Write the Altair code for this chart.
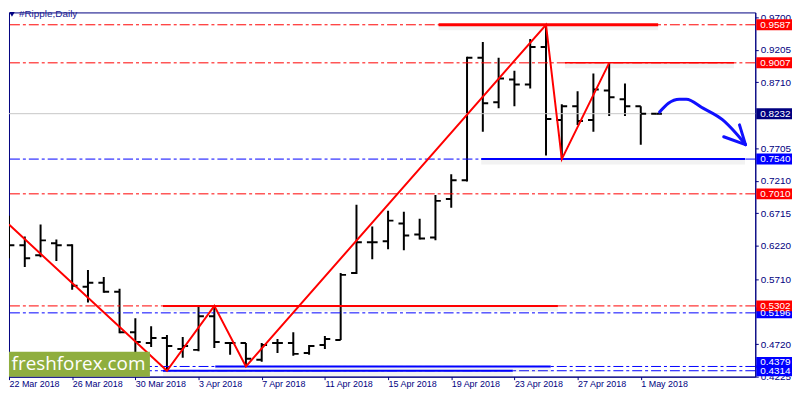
import altair as alt
import pandas as pd

# ---- data ----
days = list(range(42))
opens = [0.6466, 0.6226, 0.6075, 0.6256, 0.6226, 0.5594, 0.5654, 0.5519, 0.4902, 0.4737,
         0.4812, 0.4647, 0.4632, 0.5143, 0.4737, 0.4737, 0.4481, 0.4737, 0.4737, 0.4586,
         0.4707, 0.4782, 0.5805, 0.6271, 0.6286, 0.6557, 0.6391, 0.6346, 0.6933, 0.7218,
         0.9083, 0.8407, 0.8753, 0.8677, 0.9249, 0.8136, 0.8346, 0.8136, 0.8587, 0.8452,
         0.8346, 0.8232]
highs = [0.6677, 0.6361, 0.6542, 0.6316, 0.6241, 0.5850, 0.5744, 0.5564, 0.5113, 0.4992,
         0.4857, 0.4827, 0.5293, 0.5302, 0.4752, 0.4737, 0.4737, 0.4797, 0.4902, 0.4707,
         0.4842, 0.5805, 0.6842, 0.6512, 0.6752, 0.6737, 0.6632, 0.6993, 0.7309, 0.9098,
         0.9324, 0.9083, 0.8888, 0.9369, 0.9587, 0.8376, 0.8572, 0.8843, 0.9007, 0.8692,
         0.8346, 0.8240]
lows = [0.6030, 0.5895, 0.6045, 0.5985, 0.5549, 0.5353, 0.5504, 0.4887, 0.4586, 0.4677,
        0.4314, 0.4511, 0.4610, 0.4662, 0.4556, 0.4379, 0.4451, 0.4586, 0.4541, 0.4556,
        0.4647, 0.4782, 0.5790, 0.6015, 0.6166, 0.6151, 0.6316, 0.6301, 0.6797, 0.7200,
        0.7955, 0.8316, 0.8346, 0.8617, 0.7594, 0.7540, 0.8061, 0.7955, 0.8196, 0.8196,
        0.7760, 0.8225]
closes = [0.6226, 0.6030, 0.6301, 0.6226, 0.5609, 0.5654, 0.5519, 0.4902, 0.4752, 0.4812,
          0.4692, 0.4692, 0.5143, 0.4752, 0.4737, 0.4496, 0.4707, 0.4737, 0.4571, 0.4692,
          0.4797, 0.5775, 0.6271, 0.6271, 0.6602, 0.6376, 0.6331, 0.6903, 0.7218, 0.9083,
          0.8392, 0.8768, 0.8677, 0.9249, 0.8151, 0.8346, 0.8121, 0.8602, 0.8482, 0.8346,
          0.8232, 0.8232]

date_tick_days = [0, 4, 8, 12, 16, 20, 24, 28, 32, 36, 40]
date_labels = ["22 Mar 2018", "26 Mar 2018", "30 Mar 2018", "3 Apr 2018", "7 Apr 2018",
               "11 Apr 2018", "15 Apr 2018", "19 Apr 2018", "23 Apr 2018", "27 Apr 2018",
               "1 May 2018"]
price_ticks = [0.9700, 0.9205, 0.8710, 0.7705, 0.7210, 0.6715, 0.6220,
               0.5710, 0.4720, 0.4225]

zz_days = [0, 10, 13, 15, 34, 35, 38]
zz_prices = [0.6542, 0.4314, 0.5302, 0.4379, 0.9587, 0.7540, 0.9007]

level_prices = [0.9587, 0.9007, 0.7540, 0.7010, 0.5302, 0.5196, 0.4379, 0.4314]
level_colors = ["#ff0000", "#ff0000", "#0000ff", "#ff0000", "#ff0000", "#0000ff", "#0000ff", "#0000ff"]
current_price = 0.8232

seg_prices = [0.9587, 0.9007, 0.7540, 0.5302, 0.4379, 0.4314]
seg_start = [27.2, 35.2, 29.9, 9.75, 13.06, 9.75]
seg_end = [41.1, 45.9, 46.6, 34.75, 34.3, 31.9]
seg_colors = ["#ff0000", "#ff0000", "#0000ff", "#ff0000", "#0000ff", "#0000ff"]
seg_widths = [3, 1.5, 2, 2, 2, 2]

box_prices = [0.9587, 0.9007, 0.8232, 0.7540, 0.7010, 0.5196, 0.5302, 0.4379, 0.4314]
box_colors = ["#ff0000", "#ff0000", "#000080", "#0000ff", "#ff0000", "#0000ff", "#ff0000", "#0000ff", "#0000ff"]

arrow_days = [41.19, 41.75, 42.44, 42.88, 43.94, 45.19, 46.0, 46.63,
              46.25, 46.63, 45.25, 46.63]
arrow_prices = [0.8256, 0.8391, 0.8452, 0.8452, 0.8316, 0.8136, 0.7940, 0.7760,
                0.8061, 0.7760, 0.7880, 0.7760]
arrow_part = ["curve"] * 8 + ["head1"] * 2 + ["head2"] * 2

# ---- tables ----
bars = pd.DataFrame({"day": days, "open": opens, "high": highs, "low": lows, "close": closes})
zz = pd.DataFrame({"day": zz_days, "price": zz_prices})
levels = pd.DataFrame({"price": level_prices, "color": level_colors})
segs = pd.DataFrame({"price": seg_prices, "start": seg_start, "end": seg_end,
                     "color": seg_colors, "w": seg_widths})
boxes = pd.DataFrame({"price": box_prices, "color": box_colors})
arrow = pd.DataFrame({"day": arrow_days, "price": arrow_prices, "part": arrow_part,
                      "i": list(range(len(arrow_days)))})

W, H = 752, 367
xs = alt.Scale(domain=[0, 47.25], nice=False, zero=False)
ys = alt.Scale(domain=[0.4224, 0.97752], nice=False, zero=False)
NAVY = "#000080"

labels_js = "[" + ",".join("'" + s + "'" for s in date_labels) + "]"
x_axis = alt.Axis(values=date_tick_days, labelExpr=labels_js + "[round(datum.value/4)]",
                  title=None, grid=False, tickSize=3, labelAlign="left", labelBaseline="top",
                  labelPadding=0, labelFlush=False, labelOverlap=False, labelBound=False,
                  labelFont="Liberation Sans", labelFontSize=9, labelColor=NAVY,
                  domainColor=NAVY, tickColor=NAVY)
y_axis = alt.Axis(orient="right", values=price_ticks, format=".4f", title=None, grid=False,
                  tickSize=3, labelPadding=2, labelFlush=False, labelOverlap=False,
                  labelFont="Liberation Sans", labelFontSize=10, labelColor=NAVY,
                  domainColor=NAVY, tickColor=NAVY)

base_bars = alt.Chart(bars)

hl = base_bars.mark_rule(color="black", strokeWidth=2, clip=True).encode(
    x=alt.X("day:Q", scale=xs, axis=x_axis),
    y=alt.Y("low:Q", scale=ys, axis=y_axis),
    y2="high:Q",
)
o_tick = base_bars.transform_calculate(xo="datum.day - 0.34").mark_rule(
    color="black", strokeWidth=2, clip=True).encode(
    x=alt.X("xo:Q", scale=xs), x2="day:Q", y=alt.Y("open:Q", scale=ys))
c_tick = base_bars.transform_calculate(xc="datum.day + 0.34").mark_rule(
    color="black", strokeWidth=2, clip=True).encode(
    x=alt.X("day:Q", scale=xs), x2="xc:Q", y=alt.Y("close:Q", scale=ys))

lvl = alt.Chart(levels).mark_rule(strokeWidth=1, strokeDash=[10, 3, 3, 3]).encode(
    y=alt.Y("price:Q", scale=ys), color=alt.Color("color:N", scale=None))

cur = alt.Chart(pd.DataFrame({"price": [current_price]})).mark_rule(
    color="#c8c8c8", strokeWidth=1).encode(y=alt.Y("price:Q", scale=ys))

seg_shadow = alt.Chart(segs).mark_rule(color="#808080", opacity=0.10, strokeWidth=5, yOffset=3).encode(
    x=alt.X("start:Q", scale=xs), x2="end:Q", y=alt.Y("price:Q", scale=ys))
seg = alt.Chart(segs).mark_rule().encode(
    x=alt.X("start:Q", scale=xs), x2="end:Q", y=alt.Y("price:Q", scale=ys),
    color=alt.Color("color:N", scale=None), strokeWidth=alt.StrokeWidth("w:Q", scale=None))

zig = alt.Chart(zz).mark_line(color="#ff0000", strokeWidth=2, clip=True).encode(
    x=alt.X("day:Q", scale=xs), y=alt.Y("price:Q", scale=ys))

arr = alt.Chart(arrow).mark_line(color="#1010ff", strokeWidth=3, interpolate="monotone",
                                 strokeCap="round").encode(
    x=alt.X("day:Q", scale=xs), y=alt.Y("price:Q", scale=ys), detail="part:N", order="i:Q")

logo_rect = alt.Chart(pd.DataFrame({"a": [0]})).mark_rect(color="#8fae3e").encode(
    x=alt.value(0), x2=alt.value(142), y=alt.value(342), y2=alt.value(367))
logo_text = alt.Chart(pd.DataFrame({"t": ["freshforex.com"]})).mark_text(
    color="white", font="Open Sans", fontSize=19, align="center", baseline="middle").encode(
    x=alt.value(70), y=alt.value(354), text="t:N")

title_tri = alt.Chart(pd.DataFrame({"a": [0]})).mark_point(
    shape="triangle-down", filled=True, color=NAVY, size=30, opacity=1).encode(
    x=alt.value(3), y=alt.value(2))
title_txt = alt.Chart(pd.DataFrame({"t": ["#Ripple,Daily"]})).mark_text(
    color="#202090", font="Liberation Sans", fontSize=10, align="left", baseline="middle").encode(
    x=alt.value(10), y=alt.value(2), text="t:N")

box_main = alt.Chart(boxes).transform_filter("datum.price != 0.4379")
box_low = alt.Chart(boxes).transform_filter("datum.price == 0.4379")

box1 = box_main.mark_tick(orient="horizontal", thickness=11, size=36, opacity=1).encode(
    x=alt.value(771), y=alt.Y("price:Q", scale=ys), color=alt.Color("color:N", scale=None))
box1_txt = box_main.mark_text(color="white", font="Liberation Sans", fontSize=10,
                              align="left", baseline="middle").encode(
    x=alt.value(757), y=alt.Y("price:Q", scale=ys), text=alt.Text("price:Q", format=".4f"))
box2 = box_low.mark_tick(orient="horizontal", thickness=11, size=36, opacity=1, yOffset=-4).encode(
    x=alt.value(771), y=alt.Y("price:Q", scale=ys), color=alt.Color("color:N", scale=None))
box2_txt = box_low.mark_text(color="white", font="Liberation Sans", fontSize=10,
                             align="left", baseline="middle", yOffset=-4).encode(
    x=alt.value(757), y=alt.Y("price:Q", scale=ys), text=alt.Text("price:Q", format=".4f"))

chart = alt.layer(
    hl, lvl, cur, seg_shadow, seg, o_tick, c_tick, zig, arr,
    logo_rect, logo_text, title_tri, title_txt, box2, box2_txt, box1, box1_txt
).properties(
    width=W, height=H,
    padding=0,
    background="white",
).configure_view(stroke=NAVY, strokeWidth=1)

chart.save("out.html", embed_options={"renderer": "svg", "actions": False})
